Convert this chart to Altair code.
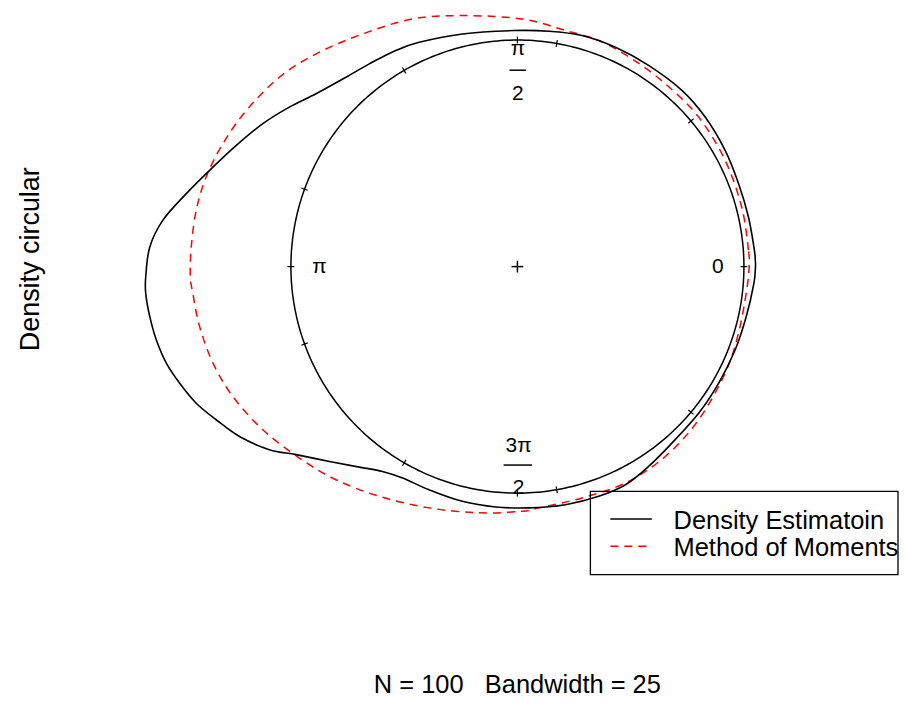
import altair as alt
import pandas as pd
import numpy as np

# ---- data (unit-circle coordinates, counter-clockwise from angle 0) ----
dens_x = [1.051, 1.050, 1.046, 1.020, 0.976, 0.917, 0.829, 0.726, 0.579, 0.433, 0.285, 0.139,
          -0.015, -0.243, -0.434, -0.537, -0.654, -0.757, -0.889, -1.007, -1.124, -1.241, -1.359,
          -1.462, -1.565, -1.623, -1.641, -1.641, -1.623, -1.594, -1.550, -1.491, -1.418, -1.330,
          -1.227, -1.095, -0.977, -0.830, -0.698, -0.596, -0.507, -0.390, -0.243, -0.096, 0.051,
          0.212, 0.359, 0.477, 0.579, 0.682, 0.800, 0.888, 0.961, 1.010, 1.044]
dens_y = [0.000, 0.029, 0.073, 0.219, 0.367, 0.513, 0.660, 0.778, 0.888, 0.968, 1.020, 1.039,
          1.042, 1.027, 0.990, 0.954, 0.895, 0.836, 0.763, 0.704, 0.631, 0.535, 0.425,
          0.322, 0.205, 0.087, -0.045, -0.118, -0.221, -0.324, -0.426, -0.515, -0.603, -0.676,
          -0.750, -0.808, -0.830, -0.860, -0.885, -0.904, -0.933, -0.985, -1.036, -1.061, -1.065,
          -1.051, -1.014, -0.963, -0.882, -0.779, -0.647, -0.515, -0.368, -0.221, -0.074]

mom_x = [1.023, 1.020, 0.990, 0.917, 0.800, 0.653, 0.506, 0.359, 0.212, 0.021, -0.243, -0.463,
         -0.684, -0.889, -1.051, -1.197, -1.300, -1.374, -1.418, -1.440, -1.444, -1.433, -1.403,
         -1.344, -1.256, -1.124, -0.963, -0.801, -0.610, -0.390, -0.170, 0.021, 0.095, 0.285,
         0.477, 0.653, 0.800, 0.917, 0.976, 1.012]
mom_y = [0.000, 0.073, 0.263, 0.469, 0.660, 0.807, 0.917, 0.998, 1.042, 1.093, 1.108, 1.093,
         1.027, 0.939, 0.836, 0.689, 0.543, 0.396, 0.249, 0.087, -0.045, -0.118, -0.265,
         -0.426, -0.574, -0.720, -0.845, -0.941, -1.014, -1.065, -1.087, -1.080, -1.065, -1.021,
         -0.955, -0.838, -0.676, -0.470, -0.294, -0.104]

series_names = ["Density Estimatoin", "Method of Moments"]
axis_labels = ["0", "π", "π", "2", "3π", "2"]
bin_tick_deg = [0, 40, 80, 120, 160, 200, 240, 280, 320]
label_tick_deg = [90, 180, 270]
subtitle = "N = 100   Bandwidth = 25".replace(" ", "\u00a0")
ytitle = "Density circular"

FONT = "Liberation Sans"
W, H = 894, 710
xs = alt.Scale(domain=[-2.249, 1.689], nice=False, zero=False)
ys = alt.Scale(domain=[-1.989, 1.138], nice=False, zero=False)
X = lambda f="x": alt.X(f"{f}:Q", scale=xs, axis=None)
Y = lambda f="y": alt.Y(f"{f}:Q", scale=ys, axis=None)

dens = pd.DataFrame({"x": dens_x, "y": dens_y, "i": range(len(dens_x))})
mom = pd.DataFrame({"x": mom_x, "y": mom_y, "i": range(len(mom_x))})

th = np.linspace(0, 2 * np.pi, 361)
circ = pd.DataFrame({"x": np.cos(th), "y": np.sin(th), "i": range(len(th))})

tk = np.deg2rad(np.array(bin_tick_deg + label_tick_deg, dtype=float))
ticks = pd.DataFrame({"x": 0.985 * np.cos(tk), "y": 0.985 * np.sin(tk),
                      "x2": 1.015 * np.cos(tk), "y2": 1.015 * np.sin(tk)})

labels = pd.DataFrame({"t": axis_labels,
                       "x": [0.885, -0.874, 0.002, 0.002, 0.005, 0.005],
                       "y": [-0.030, -0.030, 0.933, 0.735, -0.817, -1.004]})
bars = pd.DataFrame({"x": [-0.035, -0.061], "x2": [0.037, 0.064], "y": [0.867, -0.876]})
cross = pd.DataFrame({"x": [-0.026, 0.0], "x2": [0.026, 0.0], "y": [0.0, -0.026], "y2": [0.0, 0.026]})

base_one = pd.DataFrame({"a": [0]})

circle_l = alt.Chart(circ).mark_line(color="black", strokeWidth=1.5).encode(x=X(), y=Y(), order="i:Q")
tick_l = alt.Chart(ticks).mark_rule(color="black", strokeWidth=1.2).encode(
    x=X(), y=Y(), x2="x2:Q", y2="y2:Q")
cross_l = alt.Chart(cross).mark_rule(color="black", strokeWidth=1.5).encode(
    x=X(), y=Y(), x2="x2:Q", y2="y2:Q")
dens_l = alt.Chart(dens).mark_line(color="black", strokeWidth=1.6, interpolate="cardinal-closed").encode(
    x=X(), y=Y(), order="i:Q")
mom_l = alt.Chart(mom).mark_line(color="#FF0000", strokeWidth=1.5, strokeDash=[8, 6],
                                 interpolate="cardinal-closed").encode(x=X(), y=Y(), order="i:Q")
lab_l = alt.Chart(labels).mark_text(font=FONT, fontSize=21, color="black", baseline="alphabetic",
                                    align="center").encode(x=X(), y=Y(), text="t:N")
bar_l = alt.Chart(bars).mark_rule(color="black", strokeWidth=1.5).encode(x=X(), y=Y(), x2="x2:Q")

legend_box = alt.Chart(base_one).mark_rect(fillOpacity=0, stroke="black", strokeWidth=1.3).encode(
    x=alt.value(583.7), x2=alt.value(892), y=alt.value(483.7), y2=alt.value(567))
leg_black = alt.Chart(base_one).mark_rule(color="black", strokeWidth=1.6).encode(
    x=alt.value(603.7), x2=alt.value(645.3), y=alt.value(511.3))
leg_red = alt.Chart(base_one).mark_rule(color="#FF0000", strokeWidth=1.5, strokeDash=[8, 6]).encode(
    x=alt.value(603.7), x2=alt.value(645.3), y=alt.value(538.7))
leg_t1 = alt.Chart(base_one).mark_text(font=FONT, fontSize=25.5, align="left", baseline="alphabetic",
                                       text=series_names[0]).encode(x=alt.value(667), y=alt.value(521.3))
leg_t2 = alt.Chart(base_one).mark_text(font=FONT, fontSize=25.5, align="left", baseline="alphabetic",
                                       text=series_names[1]).encode(x=alt.value(667), y=alt.value(548.7))
sub_t = alt.Chart(base_one).mark_text(font=FONT, fontSize=25.5, align="center", baseline="alphabetic",
                                      text=subtitle).encode(x=alt.value(510.5), y=alt.value(686))
ytit = alt.Chart(base_one).mark_text(font=FONT, fontSize=27, align="center", baseline="alphabetic",
                                     angle=270, text=ytitle).encode(x=alt.value(31.3), y=alt.value(251))

chart = alt.layer(circle_l, tick_l, cross_l, mom_l, dens_l, lab_l, bar_l,
                  legend_box, leg_black, leg_red, leg_t1, leg_t2, sub_t, ytit).properties(
    width=W, height=H, padding=0, background="white",
    autosize=alt.AutoSizeParams(type="none")
).configure_view(stroke="transparent", strokeWidth=0)

chart.save("out.html", embed_options={"renderer": "svg", "actions": False})
